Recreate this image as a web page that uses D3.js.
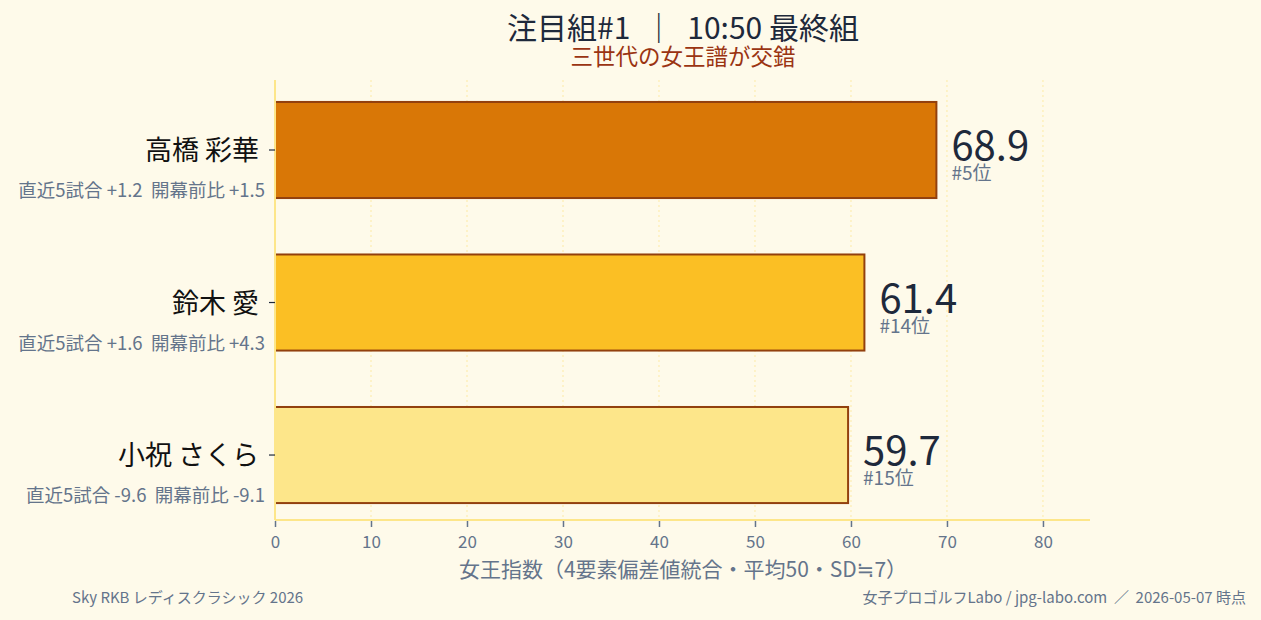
<!DOCTYPE html>
<html>
<head>
<meta charset="utf-8">
<script src="https://cdn.jsdelivr.net/npm/d3@7"></script>
<style>
  body { margin: 0; background: #fefaea; }
  svg text { font-family: "Noto Sans CJK JP", "DejaVu Sans", sans-serif; }
</style>
</head>
<body>
<div class="chart"></div>
<script>
const players = ["高橋 彩華", "鈴木 愛", "小祝 さくら"];
const scores = [68.9, 61.4, 59.7];
const ranks = ["#5位", "#14位", "#15位"];
const recent5 = ["+1.2", "+1.6", "-9.6"];
const sinceOpen = ["+1.5", "+4.3", "-9.1"];
const barColors = ["#d97706", "#fbbf24", "#fde68a"];
const xTicks = [0, 10, 20, 30, 40, 50, 60, 70, 80];

function Charting(){
    const W = 1261, H = 620;
    const left = 275, right = 1090, top = 80, bottom = 520;

    const svg = d3.select(".chart").append("svg")
    .attr("width", W)
    .attr("height", H);

    svg.append("rect").attr("width", W).attr("height", H).attr("fill", "#fefaea");

    const xScale = d3.scaleLinear()
    .domain([0, 84.9])
    .range([left, right]);

    // index 0 at the top
    const yScale = d3.scaleLinear()
    .domain([-0.459, 2.426])
    .range([top, bottom]);

    const barH = 0.63;

    // grid
    svg.selectAll(".grid")
    .data(xTicks.slice(1))
    .enter()
    .append("line")
    .attr("x1", d => xScale(d))
    .attr("x2", d => xScale(d))
    .attr("y1", top)
    .attr("y2", bottom)
    .attr("stroke", "#fde68a")
    .attr("stroke-width", 1)
    .attr("stroke-dasharray", "2,3")
    .attr("opacity", 0.7);

    // bars
    svg.selectAll(".bar")
    .data(scores)
    .enter()
    .append("rect")
    .attr("x", xScale(0))
    .attr("y", (d, i) => yScale(i - barH / 2))
    .attr("width", d => xScale(d) - xScale(0))
    .attr("height", yScale(barH) - yScale(0))
    .attr("fill", (d, i) => barColors[i])
    .attr("stroke", "#92400e")
    .attr("stroke-width", 2);

    // spines
    svg.append("line")
    .attr("x1", left).attr("x2", left)
    .attr("y1", top).attr("y2", bottom)
    .attr("stroke", "#fde68a").attr("stroke-width", 2);
    svg.append("line")
    .attr("x1", left).attr("x2", right)
    .attr("y1", bottom).attr("y2", bottom)
    .attr("stroke", "#fde68a").attr("stroke-width", 2);

    // x axis
    const xAxis = d3.axisBottom(xScale)
    .tickValues(xTicks)
    .tickSize(6)
    .tickPadding(9);

    const gx = svg.append("g")
    .attr("transform", `translate(0, ${bottom + 1})`)
    .call(xAxis);
    gx.select(".domain").remove();
    gx.selectAll(".tick line").attr("stroke", "#64748b").attr("stroke-width", 1.5);
    gx.selectAll(".tick text")
    .attr("fill", "#64748b")
    .style("font-size", "17px")
    .style("font-family", "'Noto Sans CJK JP', 'DejaVu Sans', sans-serif");

    // y ticks
    svg.selectAll(".ytick")
    .data(players)
    .enter()
    .append("line")
    .attr("x1", left - 6).attr("x2", left)
    .attr("y1", (d, i) => yScale(i)).attr("y2", (d, i) => yScale(i))
    .attr("stroke", "#1e293b").attr("stroke-width", 1.2);

    // names
    svg.selectAll(".name")
    .data(players)
    .enter()
    .append("text")
    .attr("x", left - 16)
    .attr("y", (d, i) => yScale(i) + 10)
    .attr("text-anchor", "end")
    .attr("fill", "#111111")
    .style("font-size", "27px")
    .text(d => d);

    // sub labels
    svg.selectAll(".sub")
    .data(players)
    .enter()
    .append("text")
    .attr("x", left - 10)
    .attr("y", (d, i) => yScale(i) + 47)
    .attr("text-anchor", "end")
    .attr("fill", "#64748b")
    .style("font-size", "18.5px")
    .style("white-space", "pre")
    .text((d, i) => "直近5試合 " + recent5[i] + "\u00a0\u00a0開幕前比 " + sinceOpen[i]);

    // values
    svg.selectAll(".val")
    .data(scores)
    .enter()
    .append("text")
    .attr("x", d => xScale(d) + 15)
    .attr("y", (d, i) => yScale(i) + 10)
    .attr("fill", "#1e293b")
    .style("font-size", "40px")
    .text(d => d.toFixed(1));

    svg.selectAll(".rank")
    .data(scores)
    .enter()
    .append("text")
    .attr("x", d => xScale(d) + 15)
    .attr("y", (d, i) => yScale(i) + 30)
    .attr("fill", "#64748b")
    .style("font-size", "19px")
    .text((d, i) => ranks[i]);

    // titles
    svg.append("text")
    .attr("x", 683).attr("y", 39)
    .attr("text-anchor", "middle")
    .attr("fill", "#1e293b")
    .style("font-size", "30px")
    .style("white-space", "pre")
    .text("注目組#1\u00a0\u00a0｜\u00a0\u00a010:50 最終組");

    svg.append("text")
    .attr("x", 683).attr("y", 65)
    .attr("text-anchor", "middle")
    .attr("fill", "#9a3412")
    .style("font-size", "22.5px")
    .text("三世代の女王譜が交錯");

    svg.append("text")
    .attr("x", 683).attr("y", 577)
    .attr("text-anchor", "middle")
    .attr("fill", "#64748b")
    .style("font-size", "21px")
    .text("女王指数（4要素偏差値統合・平均50・SD≒7）");

    svg.append("text")
    .attr("x", 72).attr("y", 603)
    .attr("fill", "#64748b")
    .style("font-size", "15px")
    .text("Sky RKB レディスクラシック 2026");

    svg.append("text")
    .attr("x", 1246).attr("y", 603)
    .attr("text-anchor", "end")
    .attr("fill", "#64748b")
    .style("font-size", "15px")
    .style("white-space", "pre")
    .text("女子プロゴルフLabo / jpg-labo.com\u00a0\u00a0／\u00a0\u00a02026-05-07 時点");
}

Charting()
</script>
</body>
</html>
